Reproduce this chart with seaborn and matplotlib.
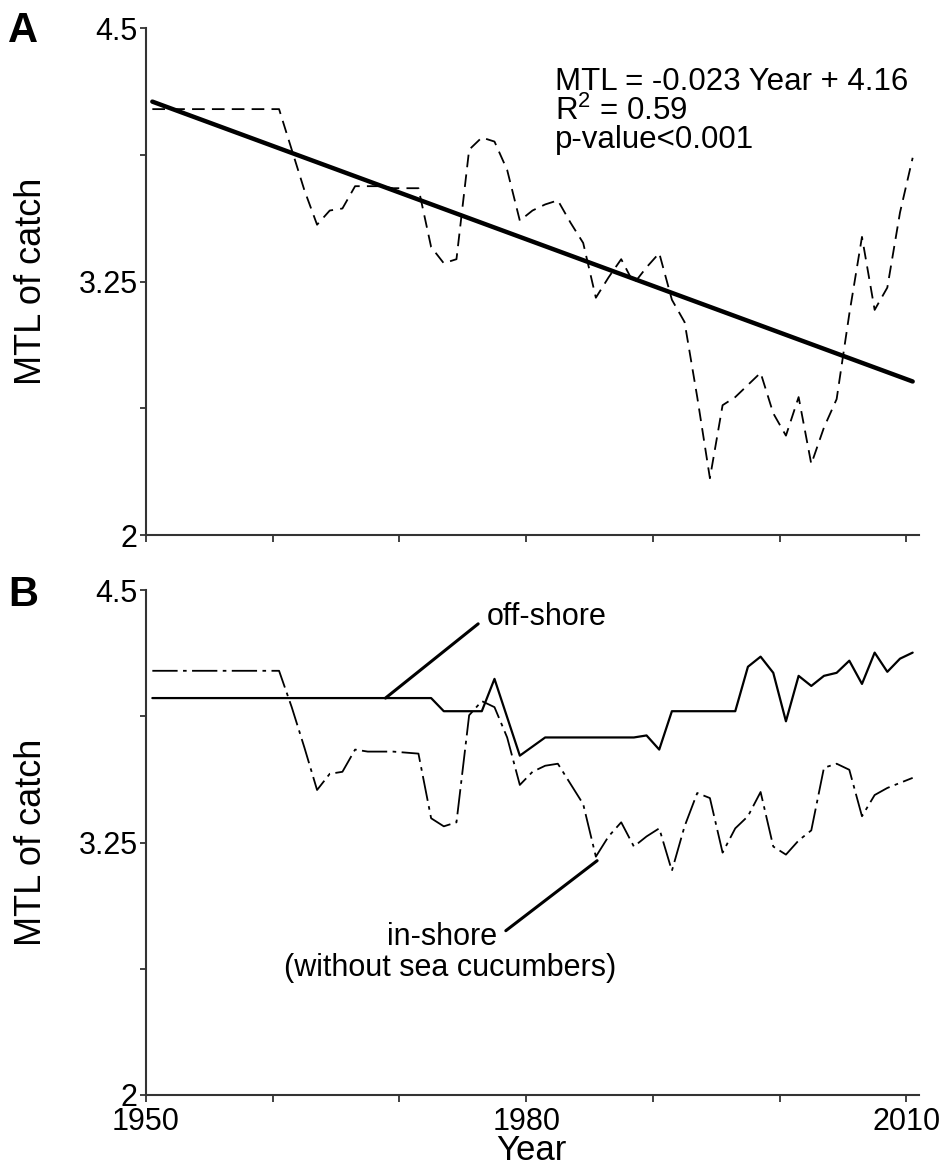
import numpy as np
import seaborn as sns
import matplotlib.pyplot as plt

years = list(range(1950, 2011))

# panel A: MTL of total catch
total_mtl = [4.10, 4.10, 4.10, 4.10, 4.10, 4.10, 4.10, 4.10, 4.10, 4.10,
             4.10, 3.90, 3.70, 3.53, 3.60, 3.61, 3.72, 3.72, 3.72, 3.71,
             3.71, 3.71, 3.42, 3.34, 3.36, 3.90, 3.96, 3.94, 3.80, 3.55,
             3.60, 3.63, 3.65, 3.54, 3.44, 3.17, 3.27, 3.36, 3.24, 3.32,
             3.39, 3.16, 3.05, 2.68, 2.28, 2.64, 2.68, 2.74, 2.80, 2.60,
             2.49, 2.68, 2.35, 2.53, 2.67, 3.09, 3.47, 3.11, 3.22, 3.59,
             3.86]

# panel B: off-shore and in-shore (without sea cucumbers)
offshore_mtl = [3.965] * 23 + [3.90] * 4 + [4.06, 3.87, 3.68, 3.725] + \
               [3.77] * 8 + [3.78, 3.71] + [3.90] * 6 + \
               [4.12, 4.17, 4.09, 3.85, 4.075, 4.025, 4.075, 4.09, 4.15,
                4.035, 4.19, 4.095, 4.16, 4.19]
inshore_mtl = [4.10, 4.10, 4.10, 4.10, 4.10, 4.10, 4.10, 4.10, 4.10, 4.10,
               4.10, 3.92, 3.72, 3.51, 3.59, 3.60, 3.71, 3.70, 3.70, 3.70,
               3.695, 3.69, 3.37, 3.33, 3.35, 3.88, 3.95, 3.92, 3.77, 3.535,
               3.60, 3.63, 3.64, 3.54, 3.44, 3.18, 3.28, 3.35, 3.23, 3.28,
               3.32, 3.11, 3.33, 3.495, 3.47, 3.20, 3.32, 3.38, 3.50, 3.23,
               3.19, 3.26, 3.31, 3.62, 3.64, 3.61, 3.38, 3.485, 3.52, 3.545,
               3.57]

# fitted trend printed on panel A (Year counted from 1 = 1950)
fit_slope = -0.023
fit_intercept = 4.16
fit_years = [1950, 2010]
fit_mtl = [fit_intercept + fit_slope * (y - 1949) for y in fit_years]

sns.set_style("ticks")
plt.rcParams['font.family'] = ['Liberation Sans', 'DejaVu Sans']
plt.rcParams['mathtext.fontset'] = 'custom'
plt.rcParams['mathtext.rm'] = 'Liberation Sans'
plt.rcParams['text.color'] = 'black'
plt.rcParams['axes.labelcolor'] = 'black'
plt.rcParams['xtick.labelcolor'] = 'black'
plt.rcParams['ytick.labelcolor'] = 'black'

W, H = 944, 1168
fig = plt.figure(figsize=(W / 100, H / 100), dpi=100)
ax_a = fig.add_axes([146 / W, 1 - 535 / H, 773 / W, 507 / H])
ax_b = fig.add_axes([146 / W, 1 - 1095 / H, 773 / W, 505 / H])

sns.lineplot(x=years, y=total_mtl, ax=ax_a, color='black', lw=1.3,
             linestyle=(0, (7, 4)))
sns.lineplot(x=fit_years, y=fit_mtl, ax=ax_a, color='black', lw=3.2)

sns.lineplot(x=years, y=offshore_mtl, ax=ax_b, color='black', lw=1.6)
sns.lineplot(x=years, y=inshore_mtl, ax=ax_b, color='black', lw=1.3,
             linestyle=(0, (14, 3, 2, 3)))

for ax in (ax_a, ax_b):
    ax.set_xlim(1949.5, 2010.5)
    ax.set_ylim(2, 4.5)
    ax.set_xticks(np.arange(1949.5, 2010, 10))
    ax.set_yticks([2, 2.625, 3.25, 3.875, 4.5])
    ax.set_yticklabels(['2', '', '3.25', '', '4.5'])
    sns.despine(ax=ax)
    for side in ('left', 'bottom'):
        ax.spines[side].set_linewidth(1.5)
        ax.spines[side].set_color('#333333')
    ax.tick_params(axis='y', length=4.5, width=1.3, color='#333333',
                   labelsize=22, pad=1.5)
    ax.tick_params(axis='x', length=5, width=1.3, color='#333333',
                   labelsize=22, pad=3.5)
    ax.set_ylabel("MTL of catch", fontsize=26)
    ax.yaxis.set_label_coords(-0.125, 0.5)

ax_a.set_xticklabels([])
ax_a.set_xlabel("")
ax_b.set_xticklabels(['1950', '', '', '1980', '', '', '2010'])
ax_b.set_xlabel("Year", fontsize=25)
ax_b.xaxis.set_label_coords(0.498, -0.077)

# regression text
ax_a.text(0.529, 0.8777, "MTL = -0.023 Year + 4.16", transform=ax_a.transAxes,
          fontsize=22.5, va='baseline')
ax_a.text(0.529, 0.8185, "R$^2$ = 0.59", transform=ax_a.transAxes,
          fontsize=22.5, va='baseline')
ax_a.text(0.529, 0.7633, "p-value<0.001", transform=ax_a.transAxes,
          fontsize=22.5, va='baseline')

# pointers
ax_b.annotate("off-shore", xy=(1968.4, 3.965), xytext=(1976.4, 4.367),
              fontsize=22, ha='left', va='center',
              arrowprops=dict(arrowstyle='-', lw=2.2, color='black',
                              relpos=(0, 0.5), shrinkA=5, shrinkB=0))
ax_b.annotate("in-shore", xy=(1985.1, 3.16), xytext=(1977.2, 2.78),
              fontsize=22, ha='right', va='center',
              arrowprops=dict(arrowstyle='-', lw=2.2, color='black',
                              relpos=(1, 0.5), shrinkA=5, shrinkB=0))
ax_b.text(1973.5, 2.63, "(without sea cucumbers)", fontsize=22,
          ha='center', va='center')

fig.text(8 / W, 1 - 42 / H, "A", fontsize=30, fontweight='bold', va='baseline')
fig.text(8 / W, 1 - 606 / H, "B", fontsize=30, fontweight='bold', va='baseline')

fig.savefig("out.png", dpi=100)
